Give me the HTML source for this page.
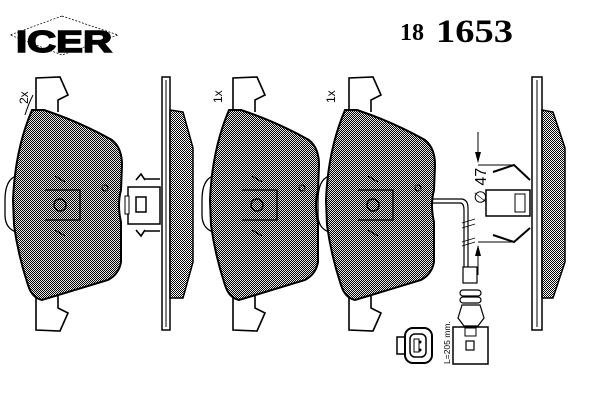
<!DOCTYPE html>
<html><head><meta charset="utf-8"><style>
html,body{margin:0;padding:0;background:#fff;width:600px;height:400px;overflow:hidden}
svg{display:block}
</style></head><body>
<svg width="600" height="400" viewBox="0 0 600 400" xmlns="http://www.w3.org/2000/svg">
<defs>
<pattern id="dt" width="2" height="2" patternUnits="userSpaceOnUse">
<rect width="2" height="2" fill="#fff"/><rect width="1" height="1" fill="#000"/><rect x="1" y="1" width="1" height="1" fill="#000"/>
</pattern>
<g id="pad">
<path d="M36,110 L36,78 L60,77 L68,95 L58,100 L58,112" fill="#fff" stroke="#000" stroke-width="1.6"/>
<path d="M36,298 L36,330 L60,331 L68,313 L58,308 L58,296" fill="#fff" stroke="#000" stroke-width="1.6"/>
<path d="M16,176 Q5,180 5,200 L5,215 Q5,228 16,232" fill="none" stroke="#000" stroke-width="1.3"/>
<path d="M32,110 L44,110 Q80,122 112,140 Q122,148 122,165 L121,190 Q117,205 121,222 L121,262 Q119,274 108,280 L42,300 Q32,298 28,285 Q18,255 14,225 L13,200 Q15,150 32,110 Z" fill="url(#dt)" stroke="#000" stroke-width="2"/>
<path d="M32,110 L44,110 Q80,122 112,140 Q122,148 122,165 L121,190 Q117,205 121,222 L121,262 Q119,274 108,280 L42,300 Q32,298 28,285 Q18,255 14,225 L13,200 Q15,150 32,110 Z" fill="#000" opacity="0.1"/>
<circle cx="60" cy="205" r="6" fill="none" stroke="#000" stroke-width="1.5"/>
<path d="M45,190 L80,190 L80,220 L45,220 M55,176 L65,182 M55,230 L65,236" fill="none" stroke="#000" stroke-width="1.3"/>
<circle cx="105" cy="188" r="3" fill="none" stroke="#000" stroke-width="1"/>
</g>
</defs>

<polygon points="62,16 118,35 62,55 10,35" fill="none" stroke="#000" stroke-width="0.7" stroke-dasharray="2,1.5"/>
<text x="16" y="52" font-family="Liberation Sans, sans-serif" font-weight="bold" font-size="31" fill="#000" textLength="96" lengthAdjust="spacingAndGlyphs" stroke="#000" stroke-width="1.5">ICER</text>
<text x="400" y="40" font-family="Liberation Serif, serif" font-weight="bold" font-size="24" fill="#000">18</text>
<text x="436" y="42" font-family="Liberation Serif, serif" font-weight="bold" font-size="33" fill="#000" textLength="77" lengthAdjust="spacingAndGlyphs">1653</text>

<text transform="translate(28,104) rotate(-90)" font-family="Liberation Sans, sans-serif" font-size="12">2x</text>
<text transform="translate(222,103) rotate(-90)" font-family="Liberation Sans, sans-serif" font-size="12">1x</text>
<text transform="translate(335,103) rotate(-90)" font-family="Liberation Sans, sans-serif" font-size="12">1x</text>
<path d="M33,95 Q28,105 25,115" fill="none" stroke="#000" stroke-width="1"/>

<use href="#pad"/>
<use href="#pad" transform="translate(197,0)"/>
<use href="#pad" transform="translate(313,0)"/>

<rect x="162" y="77" width="8" height="253" fill="#fff" stroke="#000" stroke-width="1.5"/>
<line x1="166" y1="80" x2="166" y2="327" stroke="#000" stroke-width="1"/>
<path d="M170,110 L183,112 L193,148 L193,262 L183,298 L170,298 Z" fill="url(#dt)" stroke="#000" stroke-width="1.5"/>
<rect x="128" y="187" width="32" height="37" fill="#fff" stroke="#000" stroke-width="1.5"/>
<rect x="125" y="196" width="4" height="18" fill="#fff" stroke="#000" stroke-width="1"/>
<rect x="136" y="197" width="10" height="15" fill="#fff" stroke="#000" stroke-width="1.5"/>
<path d="M136,180 L141,174 L145,180 M145,179 L160,179 M136,230 L141,236 L145,230 M145,231 L160,231" fill="none" stroke="#000" stroke-width="1.6"/>

<rect x="532" y="77" width="10" height="253" fill="#fff" stroke="#000" stroke-width="1.5"/>
<line x1="537" y1="80" x2="537" y2="327" stroke="#000" stroke-width="1"/>
<path d="M542,110 L553,112 L565,148 L565,262 L553,298 L542,298 Z" fill="url(#dt)" stroke="#000" stroke-width="1.5"/>

<rect x="486" y="190" width="44" height="26" fill="#fff" stroke="#000" stroke-width="1.5"/>
<rect x="515" y="194" width="10" height="18" fill="none" stroke="#000" stroke-width="1"/>
<path d="M493,172 L514,165 L530,180 M493,235 L514,242 L530,228" fill="none" stroke="#000" stroke-width="2"/>
<path d="M478,165 L515,165 M478,242 L515,242 M478,132 L478,162 M478,246 L478,275" fill="none" stroke="#000" stroke-width="1"/>
<polygon points="475,152 481,152 478,163" fill="#000"/>
<polygon points="475,256 481,256 478,245" fill="#000"/>
<text transform="translate(486,204) rotate(-90)" font-family="Liberation Sans, sans-serif" font-size="16">∅ 47</text>

<path d="M432,199 L462,199 Q468,200 468,208 L468,268 M432,203 L461,203 Q464,204 464,210 L464,268" fill="none" stroke="#000" stroke-width="1.2"/>
<path d="M462,223 L475,219 M462,228 L475,224 M462,242 L475,238 M462,246 L475,242" stroke="#000" stroke-width="0.8"/>
<rect x="463" y="267" width="14" height="16" fill="#fff" stroke="#000" stroke-width="1.2"/>
<rect x="460" y="290" width="21" height="6" rx="3" fill="#fff" stroke="#000" stroke-width="1.2"/>
<rect x="460" y="297" width="21" height="6" rx="3" fill="#fff" stroke="#000" stroke-width="1.2"/>
<path d="M462,305 L458,318 L464,326 L478,326 L484,318 L480,305 Z" fill="#fff" stroke="#000" stroke-width="1.2"/>
<rect x="453" y="327" width="35" height="37" fill="#fff" stroke="#000" stroke-width="1.5"/>
<rect x="465" y="328" width="11" height="8" fill="#fff" stroke="#000" stroke-width="1"/>
<rect x="466" y="341" width="8" height="9" fill="#fff" stroke="#000" stroke-width="1.2"/>
<text transform="translate(450,364) rotate(-90)" font-family="Liberation Sans, sans-serif" font-size="8.5">L=205 mm.</text>

<rect x="397" y="337" width="9" height="17" fill="#fff" stroke="#000" stroke-width="1.5"/>
<rect x="405" y="328" width="27" height="35" rx="8" fill="#fff" stroke="#000" stroke-width="2"/>
<rect x="410" y="334" width="16" height="23" rx="5" fill="#fff" stroke="#000" stroke-width="1.5"/>
<rect x="414" y="339" width="5" height="13" fill="#fff" stroke="#000" stroke-width="1"/>
<circle cx="420" cy="342" r="1.5" fill="#000"/><circle cx="420" cy="350" r="1.5" fill="#000"/>
</svg>
</body></html>
